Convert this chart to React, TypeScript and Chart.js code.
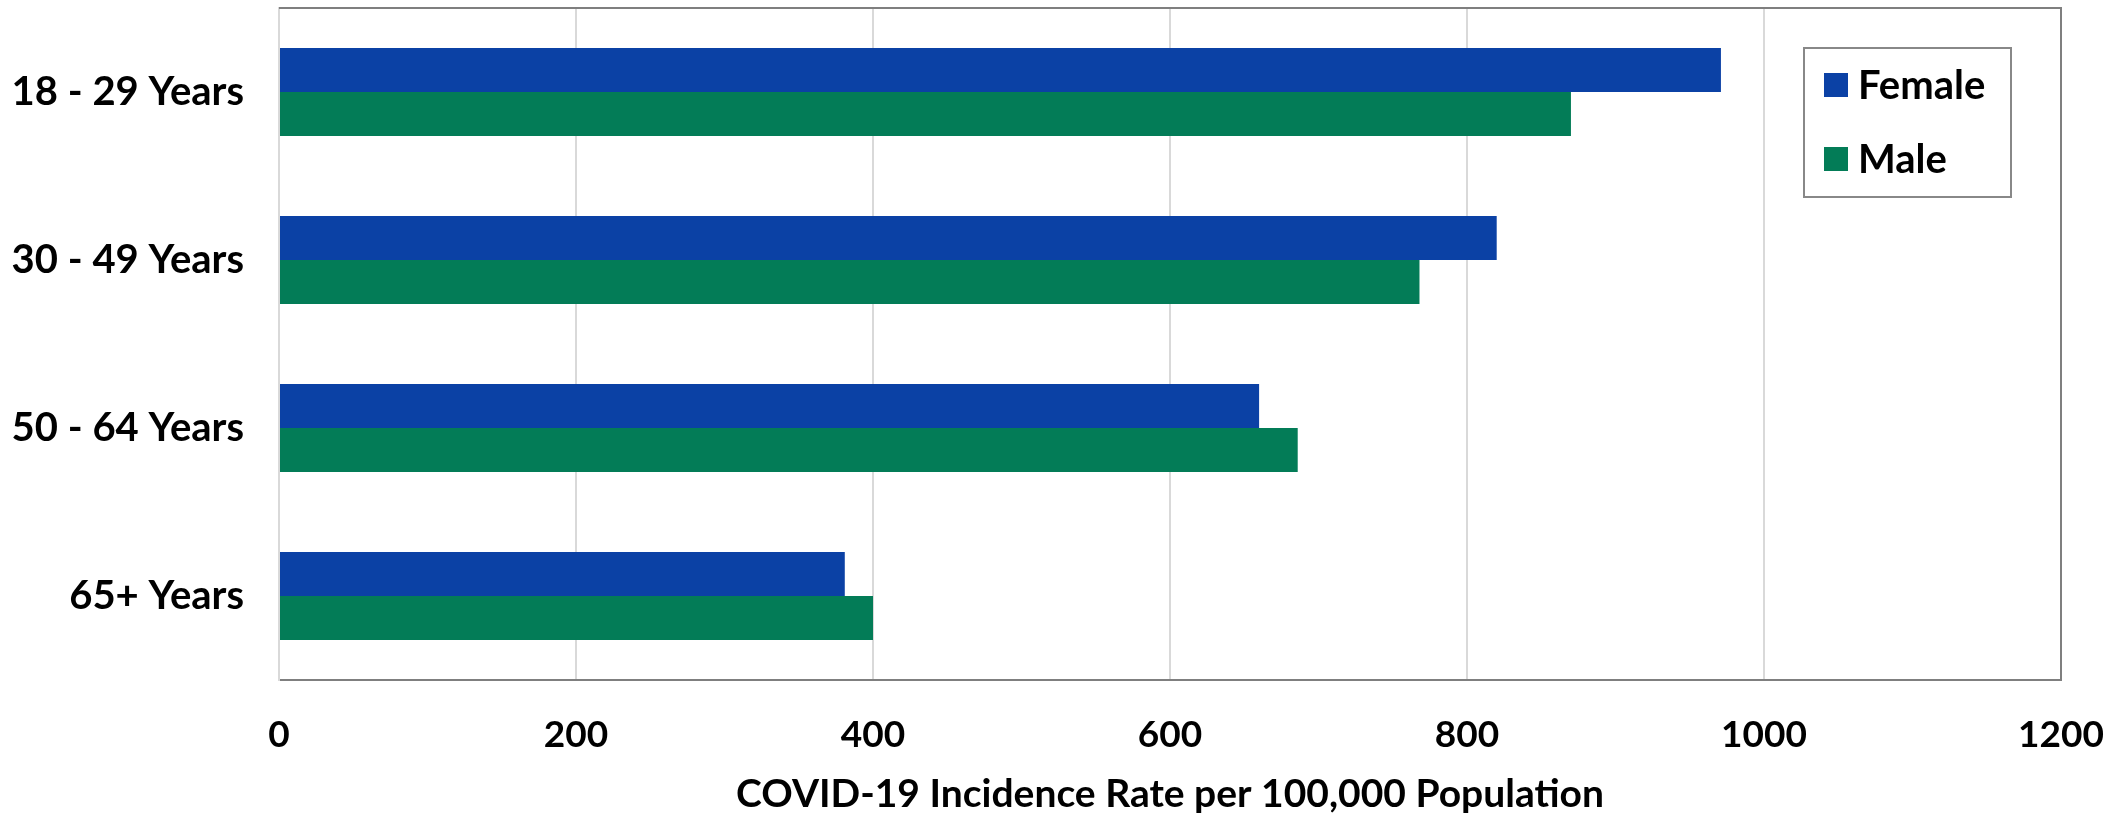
import React, { useEffect, useRef } from "react";
import { Chart, registerables } from "chart.js";

Chart.register(...registerables);

const categories = ["18 - 29 Years", "30 - 49 Years", "50 - 64 Years", "65+ Years"];
const femaleValues = [971, 820, 660, 381];
const maleValues = [870, 768, 686, 400];
const seriesNames = ["Female", "Male"];
const seriesColors = ["#0B41A5", "#037C57"];
const xTickValues = [0, 200, 400, 600, 800, 1000, 1200];
const axisTitle = "COVID-19 Incidence Rate per 100,000 Population";

const FONT = "Lato, 'Open Sans', sans-serif";

const framePlugin = {
  id: "frame",
  afterDraw(chart: any) {
    const { ctx, chartArea } = chart;
    ctx.save();
    ctx.strokeStyle = "#7F7F7F";
    ctx.lineWidth = 2;
    ctx.beginPath();
    ctx.moveTo(chartArea.left, chartArea.top);
    ctx.lineTo(chartArea.right, chartArea.top);
    ctx.lineTo(chartArea.right, chartArea.bottom);
    ctx.stroke();

    // legend box inside plot
    const bx = 1804, by = 48, bw = 207, bh = 149;
    ctx.fillStyle = "#FFFFFF";
    ctx.fillRect(bx, by, bw, bh);
    ctx.strokeStyle = "#888888";
    ctx.lineWidth = 2;
    ctx.strokeRect(bx, by, bw, bh);
    ctx.font = `bold 40px ${FONT}`;
    ctx.textBaseline = "middle";
    ctx.textAlign = "left";
    chart.data.datasets.forEach((ds: any, i: number) => {
      const cy = 85 + i * 74;
      ctx.fillStyle = ds.backgroundColor;
      ctx.fillRect(1824, cy - 12, 24, 24);
      ctx.fillStyle = "#000000";
      ctx.fillText(ds.label, 1858, cy + 1);
    });
    ctx.restore();
  },
};

export default function App() {
  const canvasRef = useRef<HTMLCanvasElement | null>(null);

  useEffect(() => {
    document.body.style.margin = "0";
    const canvas = canvasRef.current;
    if (!canvas) return;
    const chart = new Chart(canvas, {
      type: "bar",
      data: {
        labels: categories,
        datasets: [
          { label: seriesNames[0], data: femaleValues, backgroundColor: seriesColors[0], borderWidth: 0 },
          { label: seriesNames[1], data: maleValues, backgroundColor: seriesColors[1], borderWidth: 0 },
        ],
      },
      options: {
        indexAxis: "y",
        responsive: false,
        animation: false,
        devicePixelRatio: 1,
        layout: { padding: { top: 8, right: 66, bottom: 0, left: 0 } },
        datasets: { bar: { categoryPercentage: 0.524, barPercentage: 1.0 } },
        plugins: {
          legend: { display: false },
          tooltip: { enabled: false },
        },
        scales: {
          x: {
            type: "linear",
            min: 0,
            max: 1200,
            afterBuildTicks: (scale: any) => {
              scale.ticks = xTickValues.map((v) => ({ value: v }));
            },
            afterFit: (scale: any) => {
              scale.height = 136;
              scale.paddingLeft = 0;
              scale.paddingRight = 0;
            },
            grid: {
              color: "#D9D9D9",
              lineWidth: 2,
              drawTicks: false,
            },
            border: { display: true, color: "#7F7F7F", width: 2 },
            ticks: {
              padding: 33,
              color: "#000000",
              font: { family: FONT, size: 37, weight: "bold" },
              callback: (v: any) => String(v),
            },
            title: {
              display: true,
              text: axisTitle,
              color: "#000000",
              font: { family: FONT, size: 39, weight: "bold", lineHeight: 1 },
              padding: { top: 0, bottom: 2 },
            },
          },
          y: {
            type: "category",
            afterFit: (scale: any) => {
              scale.width = 279;
              scale.paddingTop = 0;
              scale.paddingBottom = 0;
            },
            grid: { display: false },
            border: { display: true, color: "#D9D9D9", width: 2 },
            ticks: {
              padding: 27,
              color: "#000000",
              font: { family: FONT, size: 40, weight: "bold" },
            },
          },
        },
      },
      plugins: [framePlugin],
    });
    return () => chart.destroy();
  }, []);

  return (
    <div style={{ position: "absolute", left: 0, top: 0, width: 2127, height: 816, background: "#FFFFFF" }}>
      <canvas ref={canvasRef} width={2127} height={816} style={{ display: "block" }} />
    </div>
  );
}
